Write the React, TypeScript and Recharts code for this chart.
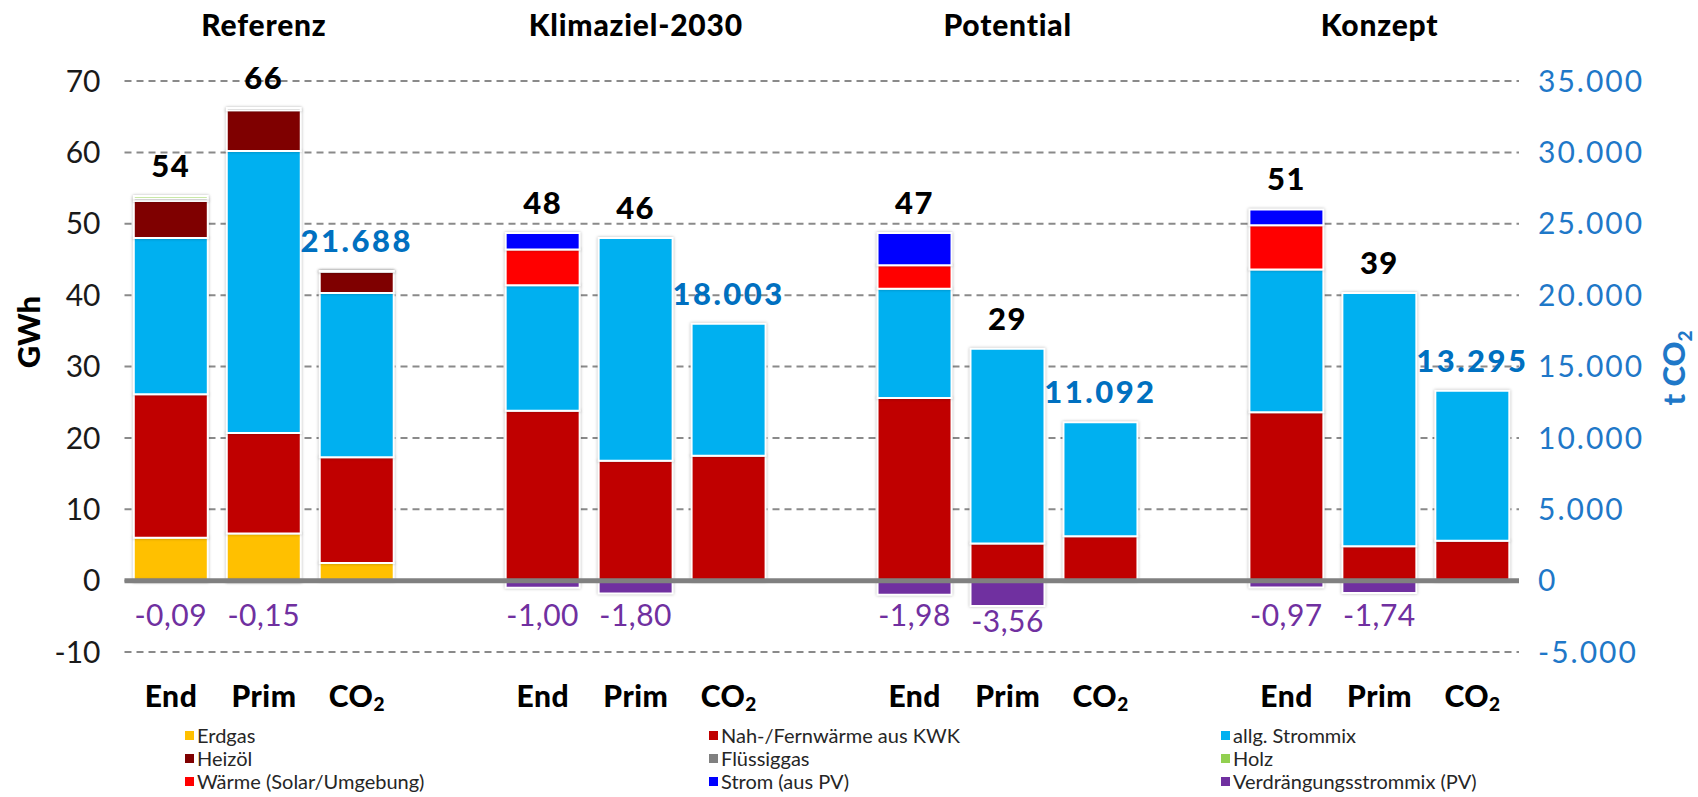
import React from 'react';
import { BarChart, Bar, XAxis, YAxis, CartesianGrid, ReferenceLine, LabelList } from 'recharts';

const scenarios = ['Referenz', 'Klimaziel-2030', 'Potential', 'Konzept'];
const kinds = ['End', 'Prim', 'CO2'];

const fuels = [
  'Erdgas',
  'Nah-/Fernwärme aus KWK',
  'allg. Strommix',
  'Heizöl',
  'Flüssiggas',
  'Holz',
  'Wärme (Solar/Umgebung)',
  'Strom (aus PV)',
  'Verdrängungsstrommix (PV)',
];
const fuelColors = ['#FFC000', '#C00000', '#00B0F0', '#7F0000', '#808080', '#92D050', '#FF0000', '#0000FF', '#7030A0'];

// GWh, order: Ref End, Ref Prim, Klima End, Klima Prim, Pot End, Pot Prim, Konz End, Konz Prim
const erdgasGWh = [6.0, 6.6, 0, 0, 0, 0, 0, 0];
const kwkGWh = [20.1, 14.1, 23.8, 16.8, 25.6, 5.2, 23.6, 4.8];
const strommixGWh = [21.9, 39.5, 17.6, 31.2, 15.3, 27.3, 20.0, 35.5];
const heizoelGWh = [5.2, 5.7, 0, 0, 0, 0, 0, 0];
const fluessiggasGWh = [0.35, 0.3, 0, 0, 0, 0, 0, 0];
const holzGWh = [0.35, 0, 0, 0, 0, 0, 0, 0];
const waermeGWh = [0, 0, 5.0, 0, 3.3, 0, 6.2, 0];
const pvGWh = [0, 0, 2.3, 0, 4.5, 0, 2.2, 0];
const verdraengungGWh = [-0.09, -0.15, -1.0, -1.8, -1.98, -3.56, -0.97, -1.74];

// t CO2 per scenario
const erdgasCO2 = [1230, 0, 0, 0];
const kwkCO2 = [7420, 8750, 3100, 2800];
const strommixCO2 = [11500, 9253, 7992, 10495];
const heizoelCO2 = [1480, 0, 0, 0];
const fluessiggasCO2 = [40, 0, 0, 0];
const holzCO2 = [18, 0, 0, 0];
const waermeCO2 = [0, 0, 0, 0];
const pvCO2 = [0, 0, 0, 0];

const leftTicks = [-10, 0, 10, 20, 30, 40, 50, 60, 70];
const rightTicks = [-5000, 0, 5000, 10000, 15000, 20000, 25000, 30000, 35000];

const gwhSeries = [erdgasGWh, kwkGWh, strommixGWh, heizoelGWh, fluessiggasGWh, holzGWh, waermeGWh, pvGWh, verdraengungGWh];
const co2Series = [erdgasCO2, kwkCO2, strommixCO2, heizoelCO2, fluessiggasCO2, holzCO2, waermeCO2, pvCO2];

const dots = (v: number) => String(v).replace(/\B(?=(\d{3})+(?!\d))/g, '.');

const rows: any[] = [];
scenarios.forEach((sc, s) => {
  kinds.forEach((kind, k) => {
    const row: any = { key: `${s}-${kind}`, kind, scenario: kind === 'Prim' ? sc : '' };
    if (kind !== 'CO2') {
      const idx = s * 2 + k;
      let total = 0;
      let top = 0;
      gwhSeries.forEach((arr, f) => {
        row[`g${f}`] = arr[idx];
        total += arr[idx];
        if (arr[idx] > 0) top += arr[idx];
      });
      row.total = String(Math.round(total));
      row.top = top;
    } else {
      let total = 0;
      co2Series.forEach((arr, f) => {
        row[`c${f}`] = arr[s];
        total += arr[s];
      });
      row.total = dots(total);
      row.top = total;
    }
    rows.push(row);
  });
  if (s < scenarios.length - 1) rows.push({ key: `gap-${s}`, kind: '', scenario: '' });
});

const FONT = 'Lato, "Open Sans", sans-serif';
const BLUE = '#0070C0';

const box = (p: any) => {
  const vb = p.viewBox ?? {};
  const x = p.x ?? vb.x;
  const y = p.y ?? vb.y;
  const width = p.width ?? vb.width;
  const height = p.height ?? vb.height;
  return { x, y, width, height };
};

// label is hung on the KWK segment (present in every bar); stack top is found from its scale
const totalLabel = (prefix: 'g' | 'c', color: string) => (p: any) => {
  const row = p.value;
  if (!row || typeof row !== 'object' || !row.kind) return null;
  if ((prefix === 'c') !== (row.kind === 'CO2')) return null;
  const { x, y, width, height } = box(p);
  const kwk = row[`${prefix}1`];
  if (!kwk) return null;
  const scale = Math.abs(height) / kwk;
  const zero = Math.max(y, y + height) + (row[`${prefix}0`] || 0) * scale;
  const top = zero - row.top * scale;
  return (
    <text x={x + width / 2} y={top - 31} textAnchor="middle" dominantBaseline="central"
      fontFamily={FONT} fontWeight={900} fontSize={31} letterSpacing={prefix === 'c' ? 2.5 : 1.5} fill={color}>
      {row.total}
    </text>
  );
};

const negLabel = (p: any) => {
  if (p.value == null || p.value === 0) return null;
  const { x, y, width, height } = box(p);
  const zero = Math.min(y, y + height);
  const bottom = Math.max(y, y + height);
  const cy = Math.max(zero + 33, bottom + 14);
  return (
    <text x={x + width / 2} y={cy} textAnchor="middle" dominantBaseline="central"
      fontFamily={FONT} fontSize={30} letterSpacing={0.5} fill="#7030A0">
      {Number(p.value).toFixed(2).replace('.', ',')}
    </text>
  );
};

const KindTick = (p: any) => {
  const row = rows[p.index ?? p.payload?.index];
  if (!row || !row.kind) return null;
  return (
    <text x={p.x} y={p.y + 43} textAnchor="middle" dominantBaseline="central"
      fontFamily={FONT} fontWeight={900} fontSize={30} letterSpacing={0.5} fill="#000">
      {row.kind === 'CO2' ? (
        <>
          <tspan>CO</tspan>
          <tspan dy={8} fontSize={19}>2</tspan>
        </>
      ) : row.kind}
    </text>
  );
};

const ScenarioTick = (p: any) => {
  const row = rows[p.index ?? p.payload?.index];
  if (!row || !row.scenario) return null;
  return (
    <text x={p.x} y={p.y - 57} textAnchor="middle" dominantBaseline="central"
      fontFamily={FONT} fontWeight={900} fontSize={30} letterSpacing={0.8} fill="#000">
      {row.scenario}
    </text>
  );
};

const legendCols = [185, 709, 1221];
const legendRows = [735, 758, 781];
const wholeRow = (d: any) => d;

export default function App() {
  return (
    <div style={{ position: 'relative', width: 1698, height: 797, background: '#fff', fontFamily: FONT }}>
      <style>{'body{margin:0} .recharts-bar-rectangles{filter:drop-shadow(0 0 1.5px rgba(0,0,0,0.28))}'}</style>
      <BarChart
        width={1698}
        height={797}
        data={rows}
        stackOffset="sign"
        barCategoryGap="10%"
        margin={{ top: 1, right: 29, bottom: 85, left: 14.5 }}
      >
        <CartesianGrid vertical={false} stroke="#8a8a8a" strokeWidth={2} strokeDasharray="7 5"
          xAxisId="bottom" yAxisId="left" />
        <XAxis xAxisId="bottom" dataKey="key" interval={0} axisLine={false} tickLine={false}
          tickSize={0} tickMargin={0} height={60} tick={<KindTick />} />
        <XAxis xAxisId="top" dataKey="key" orientation="top" interval={0} axisLine={false} tickLine={false}
          tickSize={0} tickMargin={0} height={80} tick={<ScenarioTick />} />
        <YAxis yAxisId="left" domain={[-10, 70]} ticks={leftTicks} width={110} axisLine={false}
          tickLine={false} tickSize={0} tickMargin={24}
          tick={{ fontFamily: FONT, fontSize: 30, fill: '#1a1a1a' }} />
        <YAxis yAxisId="right" orientation="right" domain={[-5000, 35000]} ticks={rightTicks} width={150}
          axisLine={false} tickLine={false} tickSize={0} tickMargin={19} tickFormatter={dots}
          tick={{ fontFamily: FONT, fontSize: 30, fill: '#1F78C8', letterSpacing: 2 }} />
        <ReferenceLine y={0} xAxisId="bottom" yAxisId="left" stroke="#808080" strokeWidth={5} />
        {fuels.map((f, i) => (
          <Bar key={`g${i}`} dataKey={`g${i}`} name={f} xAxisId="bottom" yAxisId="left" stackId="gwh"
            fill={fuelColors[i]} stroke="#ffffff" strokeWidth={2} isAnimationActive={false}>
            {i === 1 && <LabelList dataKey={wholeRow} content={totalLabel('g', '#000')} />}
            {i === 8 && <LabelList dataKey="g8" content={negLabel} />}
          </Bar>
        ))}
        {co2Series.map((_, i) => (
          <Bar key={`c${i}`} dataKey={`c${i}`} name={fuels[i]} xAxisId="top" yAxisId="right" stackId="co2"
            fill={fuelColors[i]} stroke="#ffffff" strokeWidth={2} isAnimationActive={false}>
            {i === 1 && <LabelList dataKey={wholeRow} content={totalLabel('c', BLUE)} />}
          </Bar>
        ))}
      </BarChart>

      <div style={{ position: 'absolute', left: 28, top: 332, transform: 'translate(-50%, -50%) rotate(-90deg)',
        fontWeight: 900, fontSize: 31, whiteSpace: 'nowrap', color: '#000' }}>
        GWh
      </div>
      <div style={{ position: 'absolute', left: 1673, top: 368, transform: 'translate(-50%, -50%) rotate(-90deg)',
        fontWeight: 900, fontSize: 31, whiteSpace: 'nowrap', color: '#1F78C8' }}>
        t CO<span style={{ fontSize: 19, position: 'relative', top: 7 }}>2</span>
      </div>

      {fuels.map((f, i) => (
        <div key={f} style={{ position: 'absolute', left: legendCols[i % 3], top: legendRows[Math.floor(i / 3)],
          transform: 'translateY(-50%)', display: 'flex', alignItems: 'center', fontSize: 20, color: '#262626',
          whiteSpace: 'nowrap' }}>
          <span style={{ display: 'inline-block', width: 9, height: 9, background: fuelColors[i], marginRight: 3 }} />
          {f}
        </div>
      ))}
    </div>
  );
}
